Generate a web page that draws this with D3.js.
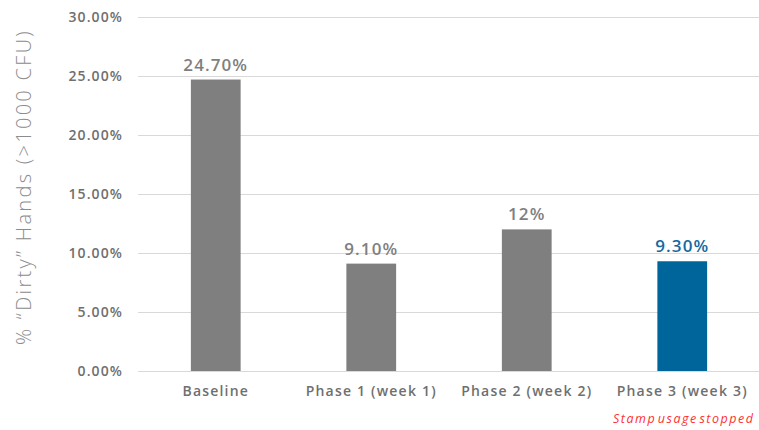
<!DOCTYPE html>
<html>
<head>
<meta charset="utf-8">
<script src="https://cdn.jsdelivr.net/npm/d3@7"></script>
<style>
  html, body { margin: 0; padding: 0; background: #fff; }
  svg { display: block; }
</style>
</head>
<body>
<svg id="chart" width="759" height="430"></svg>
<script>
// Share of hands over 1000 CFU at each phase
const categories = ["Baseline", "Phase 1 (week 1)", "Phase 2 (week 2)", "Phase 3 (week 3)"];
const values = [24.7, 9.1, 12, 9.3];
const valueLabels = ["24.70%", "9.10%", "12%", "9.30%"];
const yTicks = [0, 5, 10, 15, 20, 25, 30];
const yTickLabels = ["0.00%", "5.00%", "10.00%", "15.00%", "20.00%", "25.00%", "30.00%"];
const highlightIndex = 3;

const svg = d3.select("#chart");
const margin = { left: 138, right: 0, top: 17, bottom: 59 };
const W = 759, H = 430;

const x = d3.scaleBand()
  .domain(categories)
  .range([margin.left, margin.left + 622])
  .paddingInner(0.68)
  .paddingOuter(0.34);

const y = d3.scaleLinear()
  .domain([0, 30])
  .range([H - margin.bottom, margin.top]);

const grey = "#7f7f7f";
const blue = "#00659a";
const font = "'Open Sans', sans-serif";

// gridlines
svg.append("g")
  .selectAll("line")
  .data(yTicks)
  .join("line")
  .attr("x1", margin.left)
  .attr("x2", W)
  .attr("y1", d => y(d) + 0.5)
  .attr("y2", d => y(d) + 0.5)
  .attr("stroke", "#d9d9d9")
  .attr("stroke-width", 1);

// y axis labels
const yAxis = d3.axisLeft(y)
  .tickValues(yTicks)
  .tickSize(0)
  .tickPadding(0)
  .tickFormat((d, i) => yTickLabels[i]);
const gy = svg.append("g")
  .attr("transform", `translate(${margin.left - 15},0)`)
  .call(yAxis);
gy.select(".domain").remove();
gy.selectAll("text")
  .attr("fill", "#6f6f6f")
  .attr("font-family", font)
  .attr("font-weight", 600)
  .attr("font-size", 14)
  .attr("letter-spacing", 1.1)
  .attr("dy", "0.35em");

// x axis labels
const xAxis = d3.axisBottom(x).tickSize(0).tickPadding(0);
const gx = svg.append("g")
  .attr("transform", `translate(0,${y(0) + 15})`)
  .call(xAxis);
gx.select(".domain").remove();
gx.selectAll("text")
  .attr("fill", "#6f6f6f")
  .attr("font-family", font)
  .attr("font-weight", 600)
  .attr("font-size", 14)
  .attr("letter-spacing", 1.2)
  .attr("dy", "0.71em");

// bars
svg.append("g")
  .selectAll("rect")
  .data(values)
  .join("rect")
  .attr("x", (d, i) => x(categories[i]))
  .attr("width", x.bandwidth())
  .attr("y", d => y(d))
  .attr("height", d => y(0) - y(d))
  .attr("fill", (d, i) => i === highlightIndex ? blue : grey);

// value labels
svg.append("g")
  .selectAll("text")
  .data(values)
  .join("text")
  .attr("x", (d, i) => x(categories[i]) + x.bandwidth() / 2)
  .attr("y", d => y(d) - 9)
  .attr("text-anchor", "middle")
  .attr("font-family", font)
  .attr("font-weight", 600)
  .attr("font-size", 17)
  .attr("letter-spacing", 1.1)
  .attr("fill", (d, i) => i === highlightIndex ? "#1569a0" : grey)
  .text((d, i) => valueLabels[i]);

// y axis title
svg.append("text")
  .attr("transform", `translate(31,187) rotate(-90)`)
  .attr("text-anchor", "middle")
  .attr("font-family", font)
  .attr("font-weight", 300)
  .attr("font-size", 20)
  .attr("letter-spacing", 2.3)
  .attr("fill", "#8c8c8c")
  .text("% \u201CDirty\u201D Hands (>1000 CFU)");

// footnote under the last category
svg.append("text")
  .attr("x", 613)
  .attr("y", 423)
  .attr("font-family", font)
  .attr("font-style", "italic")
  .attr("font-size", 12.5)
  .attr("letter-spacing", 1.5)
  .attr("word-spacing", -3)
  .attr("fill", "#ff3030")
  .text("Stamp usage stopped");
</script>
</body>
</html>
